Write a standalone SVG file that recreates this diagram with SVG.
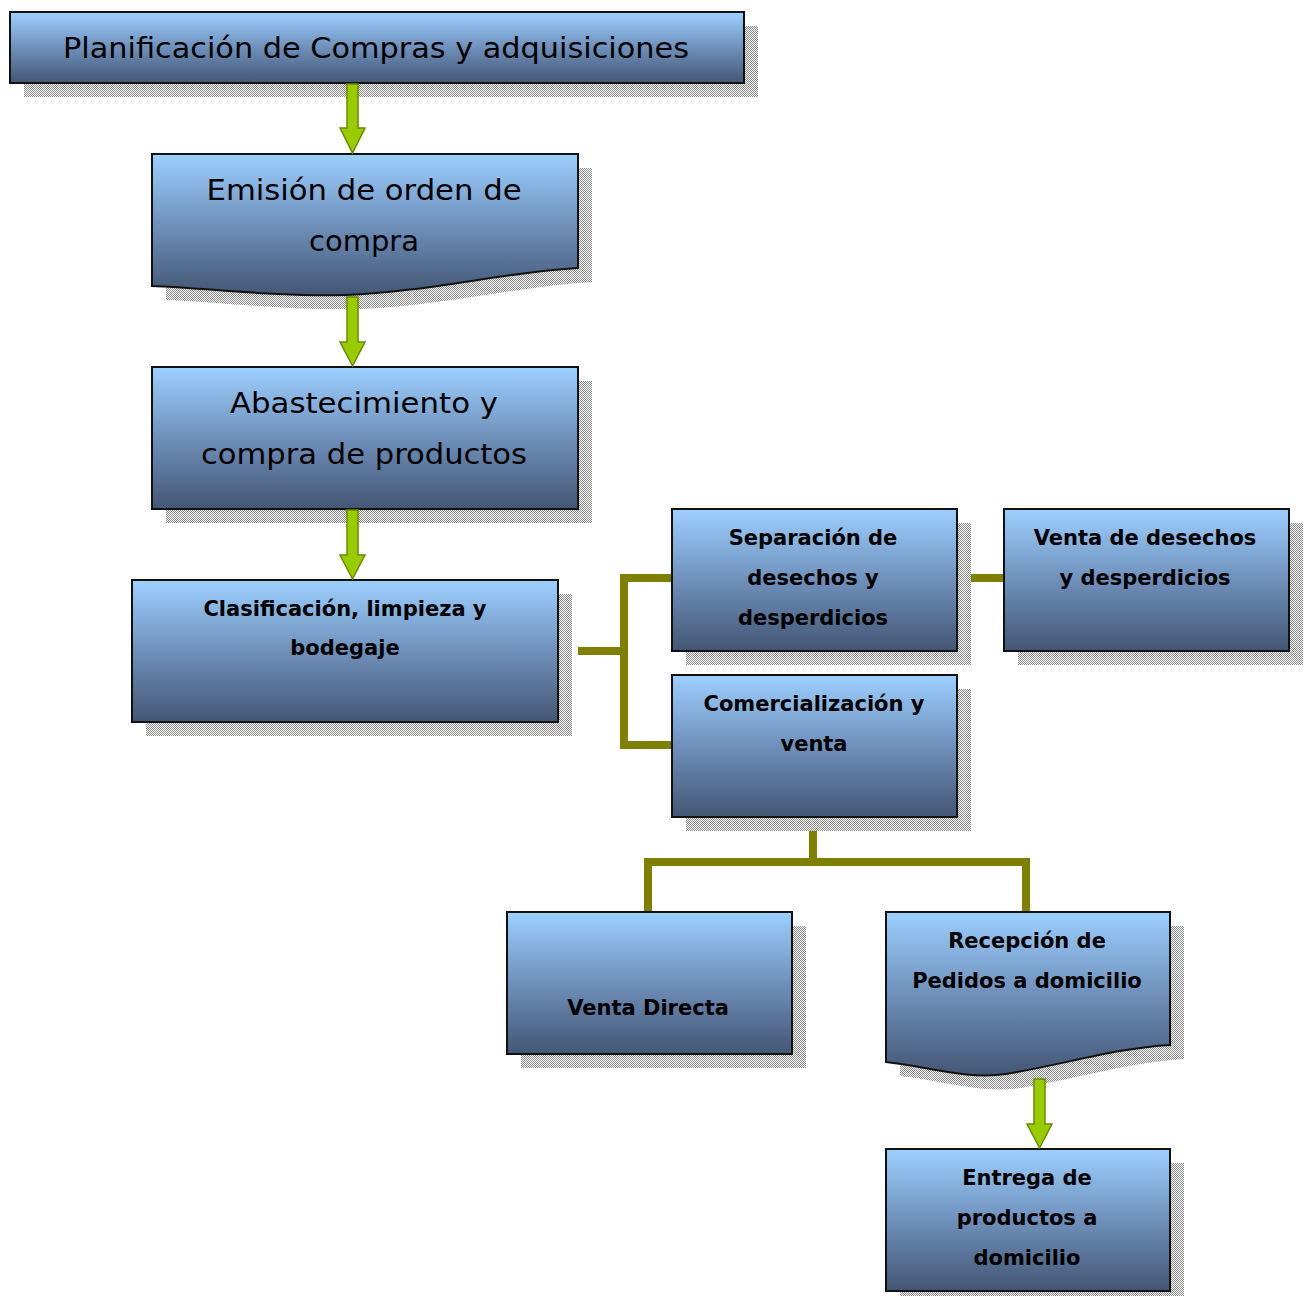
<svg xmlns="http://www.w3.org/2000/svg" width="1310" height="1296" viewBox="0 0 1310 1296">
<defs>
<linearGradient id="g" x1="0" y1="0" x2="0" y2="1">
<stop offset="0" stop-color="#9dd0ff"/>
<stop offset="0.5" stop-color="#6f90bb"/>
<stop offset="1" stop-color="#445674"/>
</linearGradient>
<pattern id="hatch" width="2" height="2" patternUnits="userSpaceOnUse">
<rect width="2" height="2" fill="#ffffff"/>
<rect width="1" height="1" fill="#8a8a8a"/>
<rect x="1" y="1" width="1" height="1" fill="#8a8a8a"/>
</pattern>
</defs>
<style>
.box{fill:url(#g);stroke:#111;stroke-width:2}
.sh{fill:url(#hatch)}
.t{font-family:"DejaVu Sans","Liberation Sans",sans-serif;fill:#000;text-anchor:middle}
.big{font-size:29px;font-weight:500}
.sm{font-size:21px;font-weight:bold}
.conn{fill:none;stroke:#808000;stroke-width:8}
.arr{fill:#99cc00;stroke:#6b8a00;stroke-width:1.5}
</style>

<g id="connectors">
<path class="conn" d="M578 651 H624 M624 578 V745 M620 578 H672 M620 745 H672"/>
<path class="conn" d="M957 578 H1004"/>
<path class="conn" d="M813 817 V862 M644 862 H1030 M648 862 V912 M1026 862 V912"/>
</g>

<g id="n1">
<rect class="sh" x="24" y="26" width="734" height="71"/>
<rect class="box" x="10" y="12" width="734" height="71"/>
<text class="t big" x="376" y="58" textLength="626" lengthAdjust="spacingAndGlyphs">Planificación de Compras y adquisiciones</text>
</g>

<g id="n2">
<path class="sh" d="M166 168 H592 V282 C520 286 440 306 360 309 C290 311 220 302 166 300 Z"/>
<path class="box" d="M152 154 H578 V268 C506 272 426 292 346 295 C276 297 206 288 152 286 Z"/>
<text class="t big" x="364" y="200" textLength="315" lengthAdjust="spacingAndGlyphs">Emisión de orden de</text>
<text class="t big" x="364" y="251">compra</text>
</g>

<g id="n3">
<rect class="sh" x="166" y="381" width="426" height="142"/>
<rect class="box" x="152" y="367" width="426" height="142"/>
<text class="t big" x="364" y="413" textLength="268" lengthAdjust="spacingAndGlyphs">Abastecimiento y</text>
<text class="t big" x="364" y="464" textLength="326" lengthAdjust="spacingAndGlyphs">compra de productos</text>
</g>

<g id="n4">
<rect class="sh" x="146" y="594" width="426" height="142"/>
<rect class="box" x="132" y="580" width="426" height="142"/>
<text class="t sm" x="345" y="616">Clasificación, limpieza y</text>
<text class="t sm" x="345" y="655">bodegaje</text>
</g>

<g id="n5">
<rect class="sh" x="686" y="523" width="285" height="142"/>
<rect class="box" x="672" y="509" width="285" height="142"/>
<text class="t sm" x="813" y="545">Separación de</text>
<text class="t sm" x="813" y="585">desechos y</text>
<text class="t sm" x="813" y="625">desperdicios</text>
</g>

<g id="n6">
<rect class="sh" x="1018" y="523" width="285" height="142"/>
<rect class="box" x="1004" y="509" width="285" height="142"/>
<text class="t sm" x="1145" y="545">Venta de desechos</text>
<text class="t sm" x="1145" y="585">y desperdicios</text>
</g>

<g id="n7">
<rect class="sh" x="686" y="689" width="285" height="142"/>
<rect class="box" x="672" y="675" width="285" height="142"/>
<text class="t sm" x="814" y="711">Comercialización y</text>
<text class="t sm" x="814" y="751">venta</text>
</g>

<g id="n8">
<rect class="sh" x="521" y="926" width="285" height="142"/>
<rect class="box" x="507" y="912" width="285" height="142"/>
<text class="t sm" x="648" y="1015">Venta Directa</text>
</g>

<g id="n9">
<path class="sh" d="M900 926 H1184 V1059 C1130 1062 1080 1078 1020 1088 C980 1094 940 1080 900 1076 Z"/>
<path class="box" d="M886 912 H1170 V1045 C1116 1048 1066 1064 1006 1074 C966 1080 926 1066 886 1062 Z"/>
<text class="t sm" x="1027" y="948">Recepción de</text>
<text class="t sm" x="1027" y="988">Pedidos a domicilio</text>
</g>

<g id="n10">
<rect class="sh" x="900" y="1163" width="284" height="133"/>
<rect class="box" x="886" y="1149" width="284" height="142"/>
<text class="t sm" x="1027" y="1185">Entrega de</text>
<text class="t sm" x="1027" y="1225">productos a</text>
<text class="t sm" x="1027" y="1265">domicilio</text>
</g>

<g id="arrows">
<path class="arr" d="M347 84 H358 V128 H365 L352.5 153 L340 128 H347 Z"/>
<path class="arr" d="M347 297 H358 V342 H365 L352.5 366 L340 342 H347 Z"/>
<path class="arr" d="M347 510 H358 V555 H365 L352.5 579 L340 555 H347 Z"/>
<path class="arr" d="M1034 1079 H1045 V1124 H1052 L1039.5 1148 L1027 1124 H1034 Z"/>
</g>
</svg>
